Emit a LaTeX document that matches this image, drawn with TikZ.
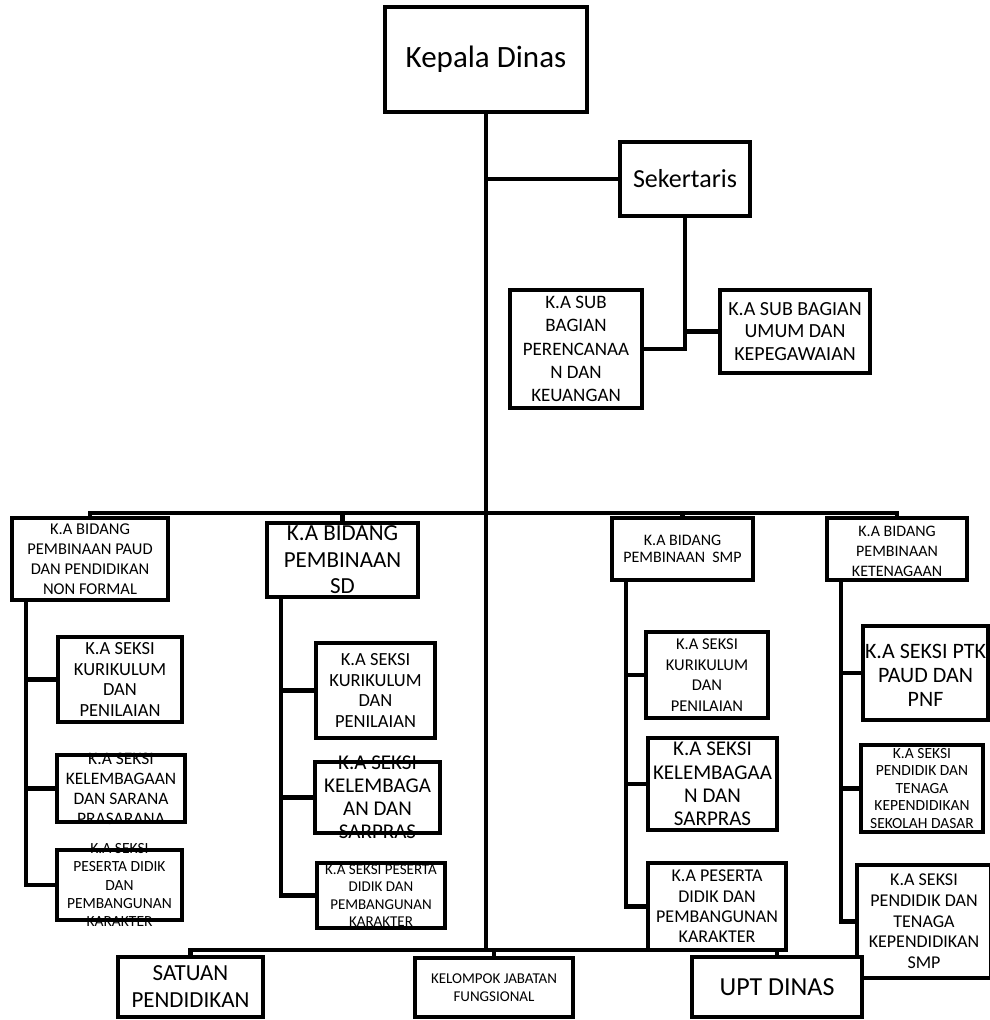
\documentclass[tikz,border=0pt]{standalone}
\usepackage{fontspec}
\setmainfont{Carlito}
\tikzset{
  kotak/.style = {draw=black, line width=4pt, fill=white, inner sep=0pt},% kotak jabatan
  ukuran/.style 2 args = {minimum width=#1, minimum height=#2},% lebar, tinggi kotak
  tulisan/.style = {align=center, inner sep=0pt, text=black},% teks jabatan
  huruf/.style 2 args = {font=\fontsize{#1}{#2}\selectfont},% ukuran huruf, jarak baris
  garis/.style = {line width=4.5pt}% garis penghubung
}

\begin{document}
\begin{tikzpicture}[x=1pt,y=-1pt]
    \useasboundingbox (0,0) rectangle (989,1020);
    % pimpinan dan sekretariat
    \node [kotak, ukuran={202pt}{105pt}, label={[tulisan, huruf={31}{37}]center:{Kepala Dinas}}] (kepala) at (486,59.5) {};
    \node [kotak, ukuran={130pt}{74pt}, label={[tulisan, huruf={26}{31}]center:{Sekertaris}}] (sekretaris) at (685,179) {};
    \node [kotak, ukuran={132pt}{118pt}, label={[tulisan, huruf={19}{23.3}]center:{K.A SUB\\BAGIAN\\PERENCANAA\\N DAN\\KEUANGAN}}] (perencanaan) at (576,349) {};
    \node [kotak, ukuran={150pt}{83pt}, label={[tulisan, huruf={20}{22.5}]center:{K.A SUB BAGIAN\\UMUM DAN\\KEPEGAWAIAN}}] (umum) at (795,331.5) {};
    % bidang
    \node [kotak, ukuran={156pt}{82pt}, label={[tulisan, huruf={16.5}{20}]center:{K.A BIDANG\\PEMBINAAN PAUD\\DAN PENDIDIKAN\\NON FORMAL}}] (paud) at (90,559) {};
    \node [kotak, ukuran={151pt}{74pt}, label={[tulisan, huruf={23}{26.5}]center:{K.A BIDANG\\PEMBINAAN\\SD}}] (sd) at (342.5,560) {};
    \node [kotak, ukuran={141pt}{62pt}, label={[tulisan, huruf={16}{17.5}]center:{K.A BIDANG\\PEMBINAAN\ \ SMP}}] (smp) at (682.5,549) {};
    \node [kotak, ukuran={140pt}{62pt}, label={[tulisan, huruf={16}{20}, yshift=-2pt]center:{K.A BIDANG\\PEMBINAAN\\KETENAGAAN}}] (ket) at (897,549) {};
    % seksi bidang paud
    \node [kotak, ukuran={124pt}{85pt}, label={[tulisan, huruf={18.5}{20.5}]center:{K.A SEKSI\\KURIKULUM\\DAN\\PENILAIAN}}] (paud1) at (120,679.5) {};
    \node [kotak, ukuran={128pt}{67pt}, label={[tulisan, huruf={17.5}{20}]center:{K.A SEKSI\\KELEMBAGAAN\\DAN SARANA\\PRASARANA}}] (paud2) at (121,788.5) {};
    \node [kotak, ukuran={125pt}{70pt}, label={[tulisan, huruf={15.5}{18.3}]center:{K.A SEKSI\\PESERTA DIDIK\\DAN\\PEMBANGUNAN\\KARAKTER}}] (paud3) at (119.5,885) {};
    % seksi bidang sd
    \node [kotak, ukuran={119pt}{95pt}, label={[tulisan, huruf={18.5}{20.5}]center:{K.A SEKSI\\KURIKULUM\\DAN\\PENILAIAN}}] (sd1) at (375.5,690.5) {};
    \node [kotak, ukuran={125pt}{71pt}, label={[tulisan, huruf={21}{23}]center:{K.A SEKSI\\KELEMBAGA\\AN DAN\\SARPRAS}}] (sd2) at (377.5,797.5) {};
    \node [kotak, ukuran={128pt}{65pt}, label={[tulisan, huruf={15}{17.3}]center:{K.A SEKSI PESERTA\\DIDIK DAN\\PEMBANGUNAN\\KARAKTER}}] (sd3) at (381,895.5) {};
    % seksi bidang smp
    \node [kotak, ukuran={122pt}{86pt}, label={[tulisan, huruf={16.5}{20.5}]center:{K.A SEKSI\\KURIKULUM\\DAN\\PENILAIAN}}] (smp1) at (707,675) {};
    \node [kotak, ukuran={129pt}{92pt}, label={[tulisan, huruf={21}{23.3}]center:{K.A SEKSI\\KELEMBAGAA\\N DAN\\SARPRAS}}] (smp2) at (712.5,784) {};
    \node [kotak, ukuran={138pt}{87pt}, label={[tulisan, huruf={18}{20.3}]center:{K.A PESERTA\\DIDIK DAN\\PEMBANGUNAN\\KARAKTER}}] (smp3) at (717,906.5) {};
    % seksi bidang ketenagaan
    \node [kotak, ukuran={125pt}{94pt}, label={[tulisan, huruf={22}{24}, yshift=-2pt]center:{K.A SEKSI PTK\\PAUD DAN\\PNF}}] (ket1) at (925.5,673) {};
    \node [kotak, ukuran={122pt}{87pt}, label={[tulisan, huruf={15.5}{17.5}]center:{K.A SEKSI\\PENDIDIK DAN\\TENAGA\\KEPENDIDIKAN\\SEKOLAH DASAR}}] (ket2) at (922,788.5) {};
    \node [kotak, ukuran={134pt}{113pt}, label={[tulisan, huruf={18}{20.7}]center:{K.A SEKSI\\PENDIDIK DAN\\TENAGA\\KEPENDIDIKAN\\SMP}}] (ket3) at (924,921.5) {};
    % unit di bawah
    \node [kotak, ukuran={145pt}{60pt}, label={[tulisan, huruf={23}{27}]center:{SATUAN\\PENDIDIKAN}}] (satuan) at (190.5,987) {};
    \node [kotak, ukuran={158pt}{59pt}, label={[tulisan, huruf={15}{18}]center:{KELOMPOK JABATAN\\FUNGSIONAL}}] (kelompok) at (494,987.5) {};
    \node [kotak, ukuran={170pt}{60pt}, label={[tulisan, huruf={26}{31}]center:{UPT DINAS}}] (upt) at (777,987) {};

    % garis
    \coordinate (atas) at (486,513);
    \coordinate (bawah) at (486,950);
    \draw [garis] (kepala.south) -- (bawah);
    \draw [garis] (kepala.south |- sekretaris.west) -- (sekretaris.west);
    \draw [garis] (sekretaris.south) |- (perencanaan.east);
    \draw [garis] (sekretaris.south |- umum.west) -- (umum.west);
    \draw [garis] (paud.north) |- (atas) -| (ket.north);
    \draw [garis] (sd.north) -- (sd.north |- atas);
    \draw [garis] (smp.north) -- (smp.north |- atas);
    \foreach \b in {paud,sd,smp,ket}{
      \coordinate (\b-tl) at ([xshift=16pt]\b.south west);
      \draw [garis] (\b-tl) |- (\b3.west);
      \draw [garis] (\b1.west) -- (\b1.west -| \b-tl);
      \draw [garis] (\b2.west) -- (\b2.west -| \b-tl);
    }
    \draw [garis] (satuan.north) |- (bawah) -| (upt.north);
    \draw [garis] (kelompok.north) -- (kelompok.north |- bawah);
\end{tikzpicture}
\end{document}
